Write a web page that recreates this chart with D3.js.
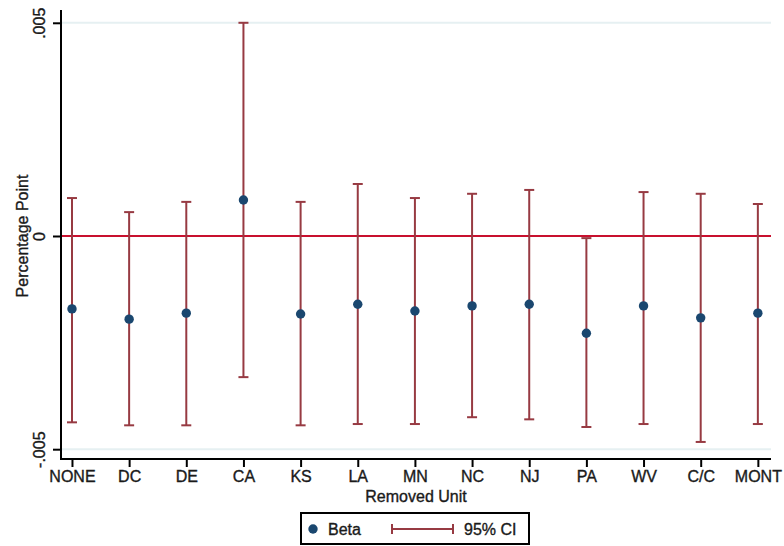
<!DOCTYPE html>
<html>
<head>
	<meta charset="utf-8">
	<script src="https://d3js.org/d3.v7.min.js"></script>
	<style>
		body{ margin: 0; background: #fff; }
		text{ font-family: "Liberation Sans", Arial, sans-serif; fill: #1a1a1a; stroke: #1a1a1a; stroke-width: 0.35px; }
		.ci{ stroke: #973a42; stroke-width: 2; fill: none; }
	</style>
</head>
<body>
	<script>
		var width = 784, height = 546;

		// data (units: percentage point)
		var units = ["NONE", "DC", "DE", "CA", "KS", "LA", "MN", "NC", "NJ", "PA", "WV", "C/C", "MONT"];
		var beta  = [-0.00171, -0.00195, -0.00181, 0.000845, -0.00183, -0.00160, -0.00176, -0.00164, -0.00160, -0.00228, -0.00164, -0.00192, -0.00181];
		var upper = [0.00089, 0.00056, 0.00080, 0.00500, 0.00080, 0.00122, 0.00089, 0.00099, 0.00108, -0.00005, 0.00103, 0.00099, 0.00075];
		var lower = [-0.00437, -0.00444, -0.00444, -0.00331, -0.00444, -0.00441, -0.00441, -0.00425, -0.00430, -0.00448, -0.00441, -0.00483, -0.00441];
		var yTicks = [-0.005, 0, 0.005];
		var yTickLabels = ["-.005", "0", ".005"];

		var plotL = 61, plotR = 771, plotT = 10, plotB = 459;

		var svg = d3.select("body").append("svg")
					.attr("width", width).attr("height", height);

		var x = d3.scaleLinear().domain([0.808, 13.23]).range([plotL, plotR]);
		var y = d3.scaleLinear().domain([-0.00523, 0.0053]).range([plotB, plotT]);

		var data = units.map(function(u, i){
			return {unit: u, pos: i + 1, b: beta[i], lo: lower[i], hi: upper[i]};
		});

		// gridlines at +-.005
		svg.append("g").selectAll("line")
			.data([-0.005, 0.005]).enter().append("line")
			.attr("x1", plotL).attr("x2", plotR)
			.attr("y1", function(d){ return y(d); })
			.attr("y2", function(d){ return y(d); })
			.attr("stroke", "#e6f0f2").attr("stroke-width", 2);

		// zero reference line
		svg.append("line")
			.attr("x1", plotL).attr("x2", plotR)
			.attr("y1", y(0)).attr("y2", y(0))
			.attr("stroke", "#c8102e").attr("stroke-width", 2);

		// confidence intervals
		var ci = svg.append("g").selectAll("g").data(data).enter().append("g");
		ci.append("line").attr("class", "ci")
			.attr("x1", function(d){ return x(d.pos); })
			.attr("x2", function(d){ return x(d.pos); })
			.attr("y1", function(d){ return y(d.lo); })
			.attr("y2", function(d){ return y(d.hi); });
		ci.append("line").attr("class", "ci")
			.attr("x1", function(d){ return x(d.pos) - 5; })
			.attr("x2", function(d){ return x(d.pos) + 5; })
			.attr("y1", function(d){ return y(d.hi); })
			.attr("y2", function(d){ return y(d.hi); });
		ci.append("line").attr("class", "ci")
			.attr("x1", function(d){ return x(d.pos) - 5; })
			.attr("x2", function(d){ return x(d.pos) + 5; })
			.attr("y1", function(d){ return y(d.lo); })
			.attr("y2", function(d){ return y(d.lo); });

		// point estimates
		svg.append("g").selectAll("circle").data(data).enter().append("circle")
			.attr("cx", function(d){ return x(d.pos); })
			.attr("cy", function(d){ return y(d.b); })
			.attr("r", 4.7)
			.attr("fill", "#1a476f");

		// y axis
		var yAxis = svg.append("g")
			.attr("transform", "translate(" + plotL + ",0)")
			.call(d3.axisLeft(y).tickValues(yTicks).tickSize(8).tickPadding(8)
				.tickFormat(function(d, i){ return yTickLabels[i]; }));
		yAxis.select(".domain").attr("d", "M0," + plotT + "V" + (plotB + 1))
			.attr("stroke", "#000").attr("stroke-width", 2);
		yAxis.selectAll(".tick line").attr("stroke", "#000").attr("stroke-width", 2);
		yAxis.selectAll(".tick text")
			.attr("transform", "rotate(-90)")
			.attr("x", 0).attr("y", -16).attr("dy", 0)
			.attr("text-anchor", "middle")
			.style("font-size", "16px").style("fill", "#1a1a1a");

		// x axis
		var xAxis = svg.append("g")
			.attr("transform", "translate(0," + plotB + ")")
			.call(d3.axisBottom(x).tickValues(d3.range(1, units.length + 1)).tickSize(8).tickPadding(4)
				.tickFormat(function(d){ return units[d - 1]; }));
		xAxis.select(".domain").attr("d", "M" + (plotL - 1) + ",0H" + plotR)
			.attr("stroke", "#000").attr("stroke-width", 2);
		xAxis.selectAll(".tick line").attr("stroke", "#000").attr("stroke-width", 2);
		xAxis.selectAll(".tick text")
			.style("font-size", "16px").style("fill", "#1a1a1a");

		// axis titles
		svg.append("text")
			.attr("transform", "translate(28,236) rotate(-90)")
			.attr("text-anchor", "middle")
			.style("font-size", "16px")
			.text("Percentage Point");
		svg.append("text")
			.attr("x", 416).attr("y", 502)
			.attr("text-anchor", "middle")
			.style("font-size", "16px")
			.text("Removed Unit");

		// legend
		var lg = svg.append("g");
		lg.append("rect")
			.attr("x", 301).attr("y", 513).attr("width", 228).attr("height", 31)
			.attr("fill", "#fff").attr("stroke", "#000").attr("stroke-width", 2);
		lg.append("circle").attr("cx", 313).attr("cy", 529).attr("r", 4.7).attr("fill", "#1a476f");
		lg.append("text").attr("x", 328).attr("y", 535).style("font-size", "16px").text("Beta");
		lg.append("line").attr("class", "ci").attr("x1", 391).attr("x2", 454).attr("y1", 529).attr("y2", 529);
		lg.append("line").attr("class", "ci").attr("x1", 392).attr("x2", 392).attr("y1", 524).attr("y2", 534);
		lg.append("line").attr("class", "ci").attr("x1", 453).attr("x2", 453).attr("y1", 524).attr("y2", 534);
		lg.append("text").attr("x", 464).attr("y", 535).style("font-size", "16px").text("95% CI");
	</script>
</body>
</html>
